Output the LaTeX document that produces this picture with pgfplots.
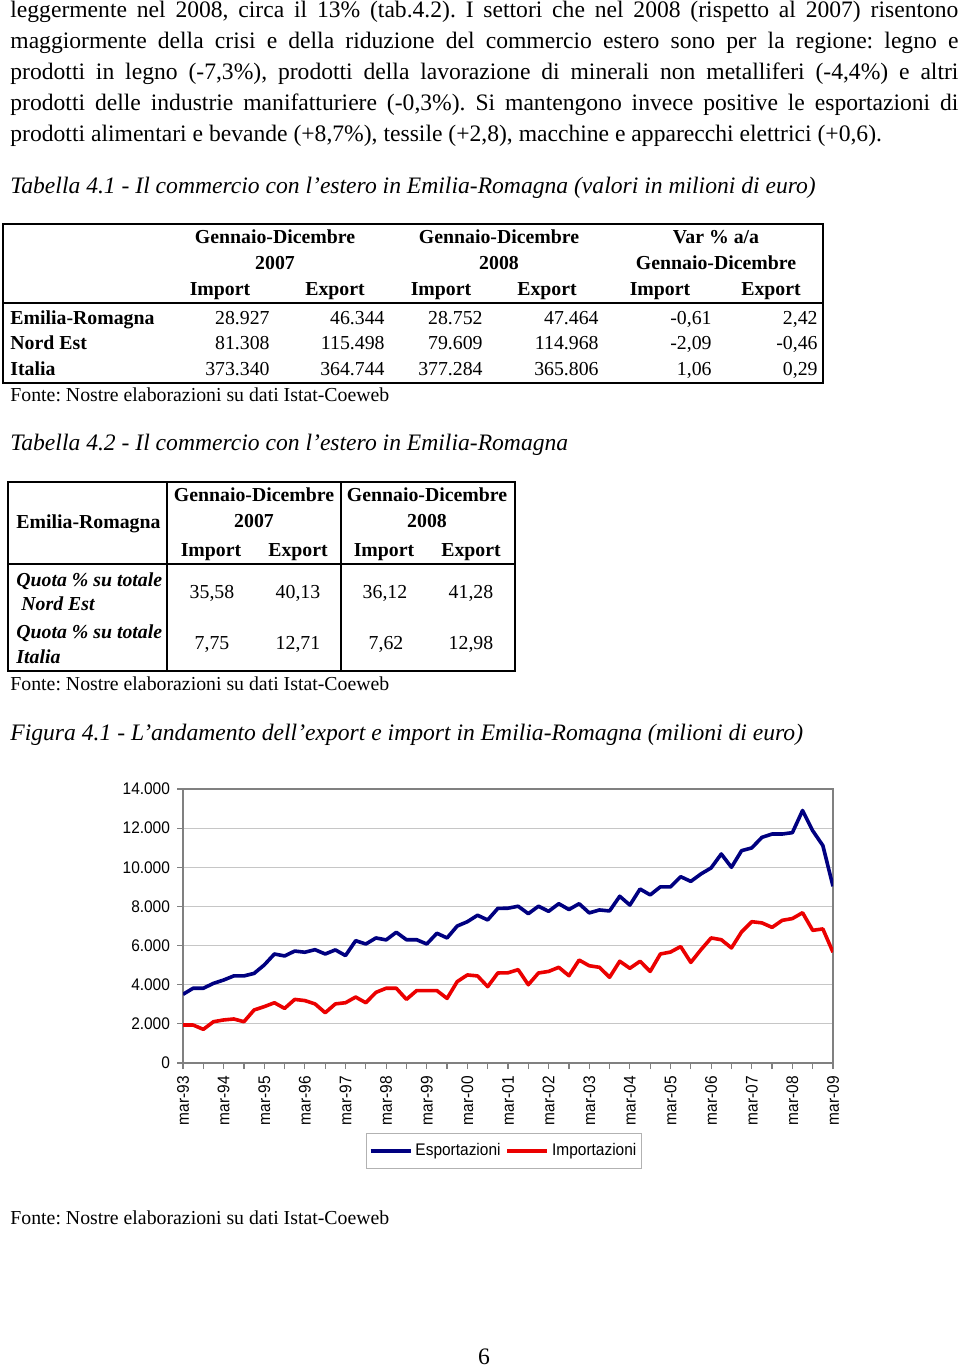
\documentclass[border=0pt]{standalone}
\usepackage{fontspec}
\setmainfont{Liberation Serif}
\newfontfamily\chartfont[FakeStretch=0.92]{Liberation Sans}
\usepackage{pgfplots}
\pgfplotsset{compat=1.18}
\frenchspacing
\newcommand\cf{\chartfont\fontsize{8.4}{10}\selectfont}
\newcommand\bt{\fontsize{11.8}{14}\selectfont}
\newcommand\tf{\fontsize{9.9}{12}\selectfont}
\definecolor{expblue}{RGB}{0,0,128}
\definecolor{impred}{RGB}{235,0,0}
\begin{document}
\begin{tikzpicture}
\path[use as bounding box] (0,0) rectangle (480pt,-684pt);
\begin{scope}[x=0.5pt,y=-0.5pt]
\newcommand\Lf[3]{\node[anchor=base west,inner sep=0] at (#1,#2) {#3};}
\newcommand\Cc[3]{\node[anchor=base,inner sep=0] at (#1,#2) {#3};}
\newcommand\Rr[3]{\node[anchor=base east,inner sep=0] at (#1,#2) {#3};}
% body text
\Lf{10}{18}{\bt\makebox[474pt][s]{leggermente nel 2008, circa il 13\% (tab.4.2). I settori che nel 2008 (rispetto al 2007) risentono}}
\Lf{10}{49}{\bt\makebox[474pt][s]{maggiormente della crisi e della riduzione del commercio estero sono per la regione: legno e}}
\Lf{10}{80}{\bt\makebox[474pt][s]{prodotti in legno (-7,3\%), prodotti della lavorazione di minerali non metalliferi (-4,4\%) e altri}}
\Lf{10}{111}{\bt\makebox[474pt][s]{prodotti delle industrie manifatturiere (-0,3\%). Si mantengono invece positive le esportazioni di}}
\Lf{10}{142}{\bt prodotti alimentari e bevande (+8,7\%), tessile (+2,8), macchine e apparecchi elettrici (+0,6).}
% caption 4.1
\Lf{10}{194}{\bt\itshape Tabella 4.1 - Il commercio con l’estero in Emilia-Romagna (valori in milioni di euro)}
% table 1
\draw[line width=1.1pt] (3,224) rectangle (823,383);
\draw[line width=1.1pt] (3,303) -- (823,303);
\Cc{275}{244}{\tf\bfseries Gennaio-Dicembre}
\Cc{499}{244}{\tf\bfseries Gennaio-Dicembre}
\Cc{716}{244}{\tf\bfseries Var \% a/a}
\Cc{275}{270}{\tf\bfseries 2007}
\Cc{499}{270}{\tf\bfseries 2008}
\Cc{716}{270}{\tf\bfseries Gennaio-Dicembre}
\Cc{220}{296}{\tf\bfseries Import}
\Cc{335}{296}{\tf\bfseries Export}
\Cc{441}{296}{\tf\bfseries Import}
\Cc{547}{296}{\tf\bfseries Export}
\Cc{660}{296}{\tf\bfseries Import}
\Cc{771}{296}{\tf\bfseries Export}
\Lf{10}{325}{\tf\bfseries Emilia-Romagna}
\Lf{10}{350}{\tf\bfseries Nord Est}
\Lf{10}{376}{\tf\bfseries Italia}
\Rr{270}{325}{\tf 28.927}\Rr{385}{325}{\tf 46.344}\Rr{483}{325}{\tf 28.752}\Rr{599}{325}{\tf 47.464}\Rr{712}{325}{\tf -0,61}\Rr{818}{325}{\tf 2,42}
\Rr{270}{350}{\tf 81.308}\Rr{385}{350}{\tf 115.498}\Rr{483}{350}{\tf 79.609}\Rr{599}{350}{\tf 114.968}\Rr{712}{350}{\tf -2,09}\Rr{818}{350}{\tf -0,46}
\Rr{270}{376}{\tf 373.340}\Rr{385}{376}{\tf 364.744}\Rr{483}{376}{\tf 377.284}\Rr{599}{376}{\tf 365.806}\Rr{712}{376}{\tf 1,06}\Rr{818}{376}{\tf 0,29}
\Lf{10}{402}{\tf Fonte: Nostre elaborazioni su dati Istat-Coeweb}
% caption 4.2
\Lf{10}{451}{\bt\itshape Tabella 4.2 - Il commercio con l’estero in Emilia-Romagna}
% table 2
\draw[line width=1.1pt] (8,482) rectangle (515,671);
\draw[line width=1pt] (167,482) -- (167,671);
\draw[line width=1pt] (341,482) -- (341,671);
\draw[line width=1.1pt] (8,564) -- (515,564);
\Cc{254}{502}{\tf\bfseries Gennaio-Dicembre}
\Cc{427}{502}{\tf\bfseries Gennaio-Dicembre}
\Cc{254}{527}{\tf\bfseries 2007}
\Cc{427}{527}{\tf\bfseries 2008}
\Lf{16}{528}{\tf\bfseries Emilia-Romagna}
\Cc{211}{556}{\tf\bfseries Import}
\Cc{298}{556}{\tf\bfseries Export}
\Cc{384}{556}{\tf\bfseries Import}
\Cc{471}{556}{\tf\bfseries Export}
\Lf{16}{586}{\tf\bfseries\itshape Quota \% su totale}
\Lf{21}{610}{\tf\bfseries\itshape Nord Est}
\Lf{16}{638}{\tf\bfseries\itshape Quota \% su totale}
\Lf{16}{663}{\tf\bfseries\itshape Italia}
\Cc{212}{598}{\tf 35,58}\Cc{298}{598}{\tf 40,13}\Cc{385}{598}{\tf 36,12}\Cc{471}{598}{\tf 41,28}
\Cc{212}{649}{\tf 7,75}\Cc{298}{649}{\tf 12,71}\Cc{386}{649}{\tf 7,62}\Cc{471}{649}{\tf 12,98}
\Lf{10}{690}{\tf Fonte: Nostre elaborazioni su dati Istat-Coeweb}
% caption 4.3
\Lf{10}{740}{\bt\itshape Figura 4.1 - L’andamento dell’export e import in Emilia-Romagna (milioni di euro)}
\Lf{10}{1224}{\tf Fonte: Nostre elaborazioni su dati Istat-Coeweb}
\Cc{484}{1364}{\bt 6}
\end{scope}
\begin{axis}[
  at={(91.5pt,-531.5pt)}, anchor=south west,
  scale only axis, width=325pt, height=137pt,
  xmin=0, xmax=64, ymin=0, ymax=14000,
  xtick={0,4,...,64},
  xticklabels={mar-93,mar-94,mar-95,mar-96,mar-97,mar-98,mar-99,mar-00,mar-01,mar-02,mar-03,mar-04,mar-05,mar-06,mar-07,mar-08,mar-09},
  minor xtick={2,6,...,62},
  ytick={0,2000,...,14000},
  yticklabels={0,2.000,4.000,6.000,8.000,10.000,12.000,14.000},
  scaled y ticks=false,
  tick align=outside, tick pos=left,
  major tick length=3pt, minor tick length=3pt,
  every tick/.style={gray, line width=0.6pt},
  ymajorgrids, grid style={gray!45, line width=0.6pt},
  axis line style={gray, line width=0.6pt},
  xticklabel style={rotate=90, anchor=east, font=\cf},
  yticklabel style={font=\cf},
  legend style={at={(0.494,-0.2555)}, anchor=north, legend columns=2, draw=gray!60, font=\cf, inner ysep=3pt, inner xsep=1pt,
    nodes={inner xsep=1.5pt},
    /tikz/every even column/.append style={column sep=1pt}},
  legend image code/.code={\draw[#1] (0pt,0pt) -- (20pt,0pt);},
]
\addplot[expblue, line width=1.8pt, line join=round] coordinates {
(0,3510)(1,3820)(2,3820)(3,4070)(4,4240)(5,4450)(6,4450)(7,4580)(8,5010)(9,5570)
(10,5470)(11,5720)(12,5660)(13,5790)(14,5570)(15,5780)(16,5490)(17,6250)(18,6080)(19,6390)
(20,6290)(21,6680)(22,6300)(23,6300)(24,6080)(25,6630)(26,6390)(27,7000)(28,7220)(29,7550)
(30,7310)(31,7900)(32,7910)(33,8010)(34,7630)(35,8010)(36,7750)(37,8140)(38,7840)(39,8140)
(40,7670)(41,7820)(42,7770)(43,8520)(44,8070)(45,8890)(46,8590)(47,9000)(48,9000)(49,9520)
(50,9280)(51,9660)(52,9970)(53,10680)(54,10000)(55,10850)(56,10990)(57,11530)(58,11700)(59,11700)
(60,11770)(61,12900)(62,11870)(63,11110)(64,9030)};
\addlegendentry{Esportazioni}
\addplot[impred, line width=1.8pt, line join=round] coordinates {
(0,1940)(1,1940)(2,1720)(3,2110)(4,2200)(5,2250)(6,2110)(7,2710)(8,2880)(9,3080)
(10,2790)(11,3250)(12,3190)(13,3020)(14,2570)(15,3020)(16,3080)(17,3370)(18,3080)(19,3610)
(20,3820)(21,3820)(22,3250)(23,3700)(24,3700)(25,3700)(26,3300)(27,4160)(28,4500)(29,4450)
(30,3900)(31,4600)(32,4610)(33,4770)(34,4000)(35,4600)(36,4680)(37,4890)(38,4460)(39,5260)
(40,4970)(41,4890)(42,4380)(43,5200)(44,4840)(45,5200)(46,4680)(47,5570)(48,5670)(49,5950)
(50,5140)(51,5790)(52,6390)(53,6300)(54,5880)(55,6700)(56,7220)(57,7160)(58,6930)(59,7290)
(60,7380)(61,7680)(62,6780)(63,6850)(64,5660)};
\addlegendentry{Importazioni}
\end{axis}
\end{tikzpicture}
\end{document}
